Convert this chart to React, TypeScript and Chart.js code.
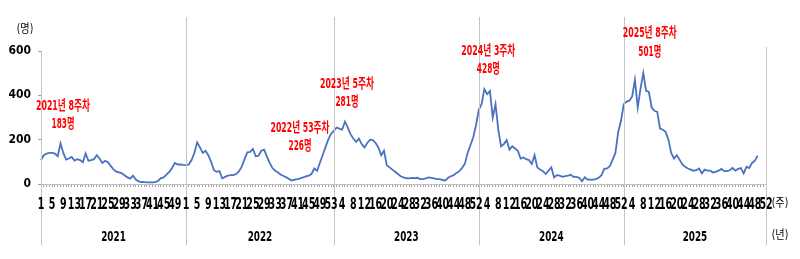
import React, { useEffect, useRef } from "react";
import { Chart, registerables } from "chart.js";

Chart.register(...registerables);

const YEARS = ["2021", "2022", "2023", "2024", "2025"];
const WEEKS_PER_YEAR = [52, 53, 52, 52, 52];

const V2021 = [108, 130, 137, 140, 140, 137, 125, 183, 140, 110, 115, 122, 106, 112, 108, 98, 138, 105, 108, 112, 130, 115, 95, 105, 98, 82, 66, 56, 52, 48, 38, 30, 24, 38, 20, 12, 9, 8, 7, 7, 7, 8, 15, 27, 30, 42, 55, 72, 95, 88, 88, 86];
const V2022 = [85, 88, 108, 140, 188, 165, 140, 150, 130, 100, 62, 55, 58, 25, 32, 38, 40, 40, 45, 58, 78, 112, 143, 145, 158, 125, 128, 150, 155, 125, 95, 72, 60, 52, 42, 36, 30, 22, 16, 20, 22, 25, 30, 34, 38, 45, 70, 60, 95, 130, 165, 200, 226];
const V2023 = [240, 255, 250, 245, 281, 255, 225, 205, 190, 205, 180, 165, 185, 200, 198, 185, 165, 130, 150, 85, 75, 65, 55, 45, 35, 30, 26, 25, 28, 26, 28, 22, 22, 25, 30, 28, 25, 22, 22, 18, 16, 28, 35, 40, 50, 58, 72, 92, 140, 175, 210, 265];
const V2024 = [335, 360, 428, 405, 420, 300, 360, 245, 170, 180, 198, 155, 170, 160, 150, 115, 120, 112, 108, 90, 130, 75, 65, 58, 45, 60, 75, 30, 40, 38, 32, 35, 38, 42, 32, 32, 28, 12, 30, 20, 20, 20, 22, 28, 40, 68, 70, 80, 110, 140, 235, 285];
const V2025 = [360, 372, 376, 395, 470, 345, 430, 501, 420, 415, 345, 330, 325, 250, 245, 235, 200, 140, 115, 130, 110, 88, 78, 70, 65, 60, 62, 70, 48, 65, 60, 60, 52, 55, 60, 68, 58, 58, 62, 72, 60, 68, 72, 48, 78, 72, 95, 105, 128];

const Y_TICKS = [0, 200, 400, 600];

// annotations: year index, week, line1, line2
const ANNO_YEAR = [0, 1, 2, 3, 4];
const ANNO_WEEK = [8, 53, 5, 3, 8];
const ANNO_LINE1 = ["2021년 8주차", "2022년 53주차", "2023년 5주차", "2024년 3주차", "2025년 8주차"];
const ANNO_LINE2 = ["183명", "226명", "281명", "428명", "501명"];
// placement (px offsets from the annotated point)
const ANNO_DX = [2.5, -31, 2, 4, 6.5];
const ANNO_DY1 = [-37, -6, -37, -37.5, -40];
const ANNO_DY2 = [-19, 12, -19, -20, -21];
const ANNO_W1 = [54, 59, 54, 54, 54];

const SERIES = [V2021, V2022, V2023, V2024, V2025];

const labels: string[] = [];
const values: (number | null)[] = [];
const yearStart: number[] = [];
WEEKS_PER_YEAR.forEach((n, yi) => {
  yearStart.push(labels.length);
  for (let w = 1; w <= n; w++) {
    labels.push(String(w));
    const v = SERIES[yi][w - 1];
    values.push(v === undefined ? null : v);
  }
});

const NARROW = "'Liberation Sans Narrow', 'DejaVu Sans Condensed', 'Arial Narrow', sans-serif";

function squashed(ctx: any, text: string, x: number, y: number, sx: number) {
  ctx.save();
  ctx.translate(x, y);
  ctx.scale(sx, 1);
  ctx.fillText(text, 0, 0);
  ctx.restore();
}

const overlay = {
  id: "overlay",
  afterDraw(chart: any) {
    const ctx = chart.ctx;
    const xs = chart.scales.x;
    const ys = chart.scales.y;
    const ca = chart.chartArea;
    const lastIdx = labels.length - 1;
    ctx.save();
    // dividers
    ctx.strokeStyle = "#c4c4c4";
    ctx.lineWidth = 1;
    const bottom = ca.bottom + 61;
    const divs = [...yearStart, lastIdx];
    divs.forEach((idx, i) => {
      const x = Math.round(xs.getPixelForValue(idx)) + 0.5;
      let top = 17;
      if (i === 0) top = ca.top;
      if (i === divs.length - 1) top = 47;
      ctx.beginPath();
      ctx.moveTo(x, top);
      ctx.lineTo(x, bottom);
      ctx.stroke();
    });
    ctx.fillStyle = "#000";
    ctx.textAlign = "center";
    ctx.textBaseline = "middle";
    // week tick labels (every 4th category)
    ctx.font = "bold 16px " + NARROW;
    labels.forEach((lab, i) => {
      if (i % 4 !== 0) return;
      squashed(ctx, lab, xs.getPixelForValue(i), ca.bottom + 21, 0.66);
    });
    // year labels
    ctx.font = "bold 14px " + NARROW;
    YEARS.forEach((y, i) => {
      const a = xs.getPixelForValue(divs[i]);
      const b = xs.getPixelForValue(divs[i + 1]);
      squashed(ctx, y, (a + b) / 2, 237, 0.7);
    });
    // units
    ctx.font = "12px " + NARROW + ", 'Noto Sans CJK KR'";
    squashed(ctx, "(주)", 780, 204, 0.85);
    squashed(ctx, "(년)", 780, 236, 0.85);
    squashed(ctx, "(명)", 25, 30, 0.85);
    // annotations
    ctx.fillStyle = "#ff0000";
    ANNO_YEAR.forEach((yi, i) => {
      const idx = yearStart[yi] + ANNO_WEEK[i] - 1;
      const v = values[idx] as number;
      const px = xs.getPixelForValue(idx) + ANNO_DX[i];
      const py = ys.getPixelForValue(v);
      ctx.font = "bold 14px " + NARROW + ", 'Noto Sans CJK KR'";
      ctx.fillText(ANNO_LINE1[i], px, py + ANNO_DY1[i], ANNO_W1[i]);
      ctx.fillText(ANNO_LINE2[i], px, py + ANNO_DY2[i], 23);
    });
    ctx.restore();
  },
};

export default function App() {
  const ref = useRef<HTMLCanvasElement | null>(null);
  useEffect(() => {
    document.body.style.margin = "0";
    const chart = new Chart(ref.current as HTMLCanvasElement, {
      type: "line",
      data: {
        labels,
        datasets: [
          {
            data: values,
            borderColor: "#4a72c0",
            borderWidth: 1.8,
            pointRadius: 0,
            tension: 0,
            spanGaps: false,
          },
        ],
      },
      options: {
        animation: false,
        responsive: false,
        maintainAspectRatio: false,
        layout: { padding: { top: 51, right: 34, left: 0, bottom: 0 } },
        plugins: { legend: { display: false }, tooltip: { enabled: false } },
        scales: {
          x: {
            type: "category",
            offset: false,
            afterFit: (s: any) => {
              s.height = 75;
            },
            grid: { drawOnChartArea: false, drawTicks: true, tickLength: 3, color: "#a0a0a0" },
            border: { color: "#bfbfbf" },
            ticks: {
              autoSkip: false,
              maxRotation: 0,
              minRotation: 0,
              padding: 9,
              color: "#000",
              font: { family: NARROW, size: 11, weight: "bold" },
              callback: () => "",
            },
          },
          y: {
            min: 0,
            max: 600,
            afterFit: (s: any) => {
              s.width = 41;
            },
            afterBuildTicks: (s: any) => {
              s.ticks = Y_TICKS.map((v) => ({ value: v }));
            },
            grid: { drawOnChartArea: false, drawTicks: true, tickLength: 3, color: "#a0a0a0" },
            border: { color: "#bfbfbf" },
            ticks: {
              padding: 7,
              color: "#000",
              font: { family: NARROW, size: 12, weight: "bold" },
            },
          },
        },
      },
      plugins: [overlay],
    } as any);
    return () => chart.destroy();
  }, []);
  return (
    <div style={{ width: 800, height: 259 }}>
      <canvas ref={ref} width={800} height={259} style={{ display: "block" }} />
    </div>
  );
}
